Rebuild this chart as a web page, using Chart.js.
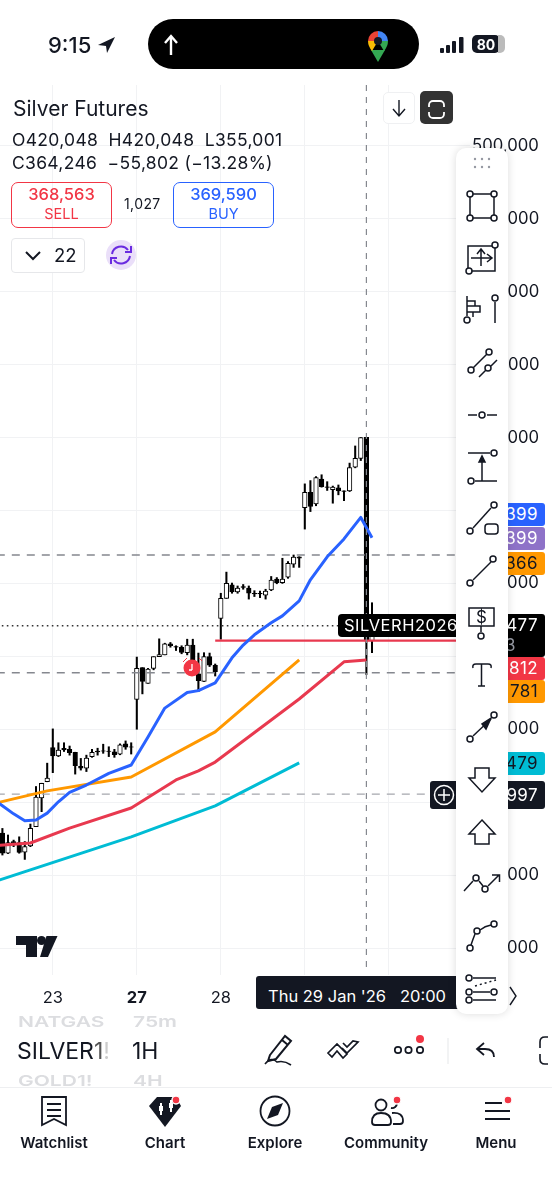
<!DOCTYPE html>
<html>
<head>
<meta charset="utf-8">
<title>Silver Futures</title>
<script src="https://cdn.jsdelivr.net/npm/chart.js@4"></script>
<style>
  html, body { margin: 0; padding: 0; background: #fff; }
  body { position: relative; width: 552px; height: 1200px; overflow: hidden; font-family: Inter, "Noto Sans", sans-serif; color: #131722; }
  #chart { position: absolute; left: -6px; top: 80px; z-index: 1; }
  #icons { position: absolute; left: 0; top: 0; z-index: 4; }
  .t { position: absolute; white-space: nowrap; line-height: 1; z-index: 5; }
  .wheel { font-size: 21px; font-weight: 600; color: #dcdde0; transform: scaleY(.72); transform-origin: left center; }
  .box { position: absolute; box-sizing: border-box; }
  .tag { position: absolute; right: 7px; width: 60px; height: 23px; border-radius: 3px; z-index: 2; font-size: 17px; line-height: 23px; text-align: right; padding-right: 7px; box-sizing: border-box; letter-spacing: 0.4px; color: #fff; }
  #panel { left: 456px; top: 148px; width: 52px; height: 866px; background: #fff; border-radius: 10px; box-shadow: 0 0 8px rgba(0,0,0,.14); z-index: 3; }
</style>
</head>
<body>

<canvas id="chart" width="558" height="935"></canvas>

<!-- header -->
<div class="t" style="left:48px;top:34px;font-size:22px;font-weight:500">9:15</div>
<div class="box" style="left:148px;top:19px;width:271px;height:50px;border-radius:25px;background:#000;z-index:2"></div>
<div class="t" style="left:13px;top:98px;font-size:21px">Silver Futures</div>
<div class="t" style="left:12px;top:131px;font-size:17.5px;letter-spacing:.3px">O420,048&nbsp; H420,048&nbsp; L355,001</div>
<div class="t" style="left:12px;top:154px;font-size:17.5px;letter-spacing:.3px">C364,246&nbsp; −55,802 (−13.28%)</div>

<div class="box" style="left:11px;top:182px;width:101px;height:46px;border:1.5px solid #f23645;border-radius:7px;z-index:2"></div>
<div class="t" style="left:11px;width:101px;text-align:center;top:186px;font-size:16.5px;font-weight:500;color:#f23645">368,563</div>
<div class="t" style="left:11px;width:101px;text-align:center;top:207px;font-size:14.5px;color:#f23645">SELL</div>
<div class="t" style="left:124px;top:197px;font-size:14px;letter-spacing:.4px">1,027</div>
<div class="box" style="left:173px;top:182px;width:101px;height:46px;border:1.5px solid #2962ff;border-radius:7px;z-index:2"></div>
<div class="t" style="left:173px;width:101px;text-align:center;top:186px;font-size:16.5px;font-weight:500;color:#2962ff">369,590</div>
<div class="t" style="left:173px;width:101px;text-align:center;top:207px;font-size:14.5px;color:#2962ff">BUY</div>
<div class="box" style="left:11px;top:238px;width:74px;height:35px;border:1.5px solid #e6e7ea;border-radius:4px;background:#fff;z-index:2"></div>
<div class="t" style="left:54px;top:246px;font-size:18.5px">22</div>
<div class="box" style="left:383px;top:92px;width:32px;height:32px;border:1.5px solid #eff0f2;border-radius:5px;background:#fff;z-index:2"></div>
<div class="box" style="left:420px;top:91px;width:33px;height:33px;border-radius:5px;background:#333;z-index:2"></div>

<!-- price tags -->
<div class="tag" style="top:503px;background:#2962ff">399</div>
<div class="tag" style="top:527px;background:#8e72c8">399</div>
<div class="tag" style="top:552px;background:#ff9800;color:#131722">366</div>
<div class="tag" style="top:614px;height:43px;background:#000">477<br><span style="position:relative;top:-3px;left:-22px;color:#9598a1">3</span></div>
<div class="tag" style="top:657px;background:#f23645">812</div>
<div class="tag" style="top:680px;background:#ff9800;color:#131722">781</div>
<div class="tag" style="top:752px;background:#00bcd4;color:#131722">479</div>
<div class="tag" style="top:781px;height:28px;line-height:28px;background:#131722">997</div>
<div class="box" style="left:430px;top:781px;width:30px;height:28px;border-radius:3px;background:#131722;z-index:2"></div>

<!-- chart labels -->
<div class="box" style="left:338px;top:614px;width:122px;height:23px;border-radius:4px;background:#000;z-index:2"></div>
<div class="t" style="left:344px;top:617px;font-size:16.5px;letter-spacing:.5px;color:#fff;z-index:2">SILVERH2026</div>
<div class="box" style="left:256px;top:976px;width:210px;height:33px;border-radius:3px;background:#131722;z-index:2"></div>
<div class="t" style="left:268px;top:988px;font-size:16.5px;color:#fff;z-index:2">Thu 29 Jan '26 &nbsp; 20:00</div>

<div class="box" id="panel"></div>

<!-- symbol and interval picker -->
<div class="t wheel" style="left:18px;top:1011px">NATGAS</div>
<div class="t wheel" style="left:133px;top:1011px">75m</div>
<div class="t" style="left:17px;top:1040px;font-size:23px;color:#131722">SILVER<span style="color:#555">1</span><span style="color:#ccc">!</span></div>
<div class="t" style="left:132px;top:1040px;font-size:23px;color:#131722">1H</div>
<div class="t wheel" style="left:18px;top:1070px">GOLD1!</div>
<div class="t wheel" style="left:133px;top:1070px">4H</div>
<div class="box" style="left:0;top:1087px;width:552px;height:1px;background:#eeeff1;z-index:2"></div>

<!-- tab bar -->
<div class="t" style="left:0;width:108px;text-align:center;top:1135px;font-size:15px;font-weight:600">Watchlist</div>
<div class="t" style="left:111px;width:108px;text-align:center;top:1135px;font-size:15px;font-weight:600">Chart</div>
<div class="t" style="left:221px;width:108px;text-align:center;top:1135px;font-size:15px;font-weight:600">Explore</div>
<div class="t" style="left:326px;width:120px;text-align:center;top:1135px;font-size:15px;font-weight:600">Community</div>
<div class="t" style="left:442px;width:108px;text-align:center;top:1135px;font-size:15px;font-weight:600">Menu</div>

<svg id="icons" width="552" height="1200" viewBox="0 0 552 1200" fill="none" stroke="#131722" stroke-width="1.5">
  <!-- status bar -->
  <path d="M115 37 L98 45 L106 46 L107 53 Z" fill="#131722" stroke="none"/>
  <path d="M171 55 V38 M165 43 L171 36 L177 43" stroke="#fff" stroke-width="2.4"/>
  <path d="M378 62 L371 50 L385 50 Z" fill="#34a853" stroke="none"/>
  <path d="M368 41 A10 10 0 0 1 378 31 L378 41 Z" fill="#ea4335" stroke="none"/>
  <path d="M378 31 A10 10 0 0 1 388 41 L378 41 Z" fill="#4285f4" stroke="none"/>
  <path d="M368 41 Q368 46 372 51 L378 41 Z" fill="#fbbc04" stroke="none"/>
  <path d="M388 41 Q388 46 384 51 L378 41 Z" fill="#34a853" stroke="none"/>
  <circle cx="378" cy="41" r="4" fill="#131722" stroke="none"/>
  <g fill="#131722" stroke="none">
    <rect x="440" y="48" width="4" height="5" rx="1"/><rect x="446" y="45" width="4" height="8" rx="1"/>
    <rect x="452" y="41" width="4" height="12" rx="1"/><rect x="459" y="37" width="4.5" height="16" rx="1"/>
    <rect x="472" y="35" width="28" height="18" rx="5"/>
  </g>
  <path d="M498 35 h2 a5 5 0 0 1 5 5 v8 a5 5 0 0 1 -5 5 h-2 Z" fill="#bbb" stroke="none"/>
  <text x="486" y="50" font-size="14" font-weight="700" text-anchor="middle" fill="#fff" stroke="none" font-family="Inter">80</text>

  <!-- header buttons -->
  <path d="M399 100 V115 M393 109 L399 116 L405 109" stroke-width="1.4"/>
  <path d="M429 107 v-2 a4 4 0 0 1 4 -4 h7 a4 4 0 0 1 4 4 v2 M429 112 v2 a4 4 0 0 0 4 4 h7 a4 4 0 0 0 4 -4 v-2" stroke="#fff" stroke-width="1.8"/>
  <path d="M26 252 L33 259 L40 252" stroke-width="2"/>
  <circle cx="121" cy="255" r="15" fill="#eadff9" stroke="none"/>
  <path d="M112 254 a9 9 0 0 1 16 -4 M130 256 a9 9 0 0 1 -16 4" stroke="#6a2be0" stroke-width="2"/>
  <path d="M131 246 v6 h-6 M111 264 v-6 h6" stroke="#6a2be0" stroke-width="2"/>

  <!-- position marker -->
  <circle cx="192" cy="668" r="8.5" fill="#f23645" stroke="none"/>
  <path d="M192 664 v6 M189 670 h3" stroke="#fff" stroke-width="1.3"/>
  <path d="M183 662 l4 -4 M199 658 l3 3" stroke="#f23645" stroke-width="1"/>

  <!-- tradingview mark -->
  <path d="M16 936 H37 V957 H26 V945 H16 Z" fill="#131722" stroke="none"/>
  <circle cx="41.500" cy="940.500" r="4.500" fill="#131722" stroke="none"/>
  <path d="M46.500 936 H57.500 L48 957 H40 Z" fill="#131722" stroke="none"/>

  <!-- crosshair add button and axis settings -->
  <circle cx="444" cy="795" r="9.5" stroke="#fff" stroke-width="1.5"/>
  <path d="M444 789 v12 M438 795 h12" stroke="#fff" stroke-width="1.5"/>
  <path d="M510 987 L516 996 L510 1005" stroke-width="1.4"/>

  <!-- drawing tools -->
  <g fill="#9598a1" stroke="none">
    <circle cx="475" cy="159" r="1.2"/><circle cx="482" cy="159" r="1.2"/><circle cx="489" cy="159" r="1.2"/>
    <circle cx="475" cy="167" r="1.2"/><circle cx="482" cy="167" r="1.2"/><circle cx="489" cy="167" r="1.2"/>
  </g>
  <g>
    <path d="M470 194 H494 V218 H470 Z"/>
    <path d="M468 246 H495 V271 H468 Z M481 266 V251 M477 254 L481 249 L485 254 M471 258 H491 M487 254 L492 258 L487 262"/>
    <path d="M467 296 V316 M467 301 H475 V306 H467 M467 306 H480 V312 H467 M467 312 H473 V317 M495 302 V323"/>
    <path d="M473 368 L487 354 M479 377 L486 370 M491 366 L497 360"/>
    <path d="M468 415 H477 M487 415 H497"/>
    <path d="M468 453 H490 M475 481 H497 M482 481 V460"/><path d="M479 462 L482 456 L485 462 Z" fill="#131722"/>
    <path d="M473 528 L491 508"/><rect x="485" y="524" width="13" height="10" rx="3"/>
    <path d="M473 580 L491 562"/>
    <path d="M469 608 H494 V626 H469 Z M481 626 V632"/>
    <path d="M473 668 Q472 664 476 664 H488 Q492 664 491 668 M481.5 664 V686 M478 686 H485"/>
    <path d="M473 736 L491 719"/><path d="M491 718 L482 724 L486 729 Z" fill="#131722"/>
    <path d="M475 768 H489 V778 H495 L482 792 L469 778 H475 Z"/>
    <path d="M482 820 L495 834 H489 V844 H475 V834 H469 Z"/>
    <path d="M464 891 L473 881 M479 881 L483 886 M488 886 L499 875 M492 875 H499.5 V882"/>
    <path d="M471 945 Q473 939 475 934 M480 930 Q485 926 491 925"/>
    <path d="M473 978 H496 M473 992 H490 M473 1000 H496"/>
    <path d="M475 986 L496 980" stroke-dasharray="2 3"/>
    <g fill="#fff">
      <circle cx="470" cy="194" r="3"/><circle cx="494" cy="194" r="3"/><circle cx="470" cy="218" r="3"/><circle cx="494" cy="218" r="3"/>
      <circle cx="495" cy="245" r="3"/><circle cx="469" cy="271" r="3"/>
      <circle cx="467" cy="320" r="3"/><circle cx="495" cy="298" r="3"/>
      <circle cx="471" cy="370" r="3"/><circle cx="489" cy="352" r="3"/><circle cx="488" cy="368" r="3"/>
      <circle cx="482" cy="415" r="3"/>
      <circle cx="494" cy="453" r="3"/><circle cx="471" cy="481" r="3"/>
      <circle cx="470" cy="531" r="3"/><circle cx="494" cy="505" r="3"/>
      <circle cx="470" cy="583" r="3"/><circle cx="493" cy="559" r="3"/>
      <circle cx="481" cy="636" r="3"/>
      <circle cx="470" cy="739" r="3"/><circle cx="494" cy="715" r="3"/>
      <circle cx="476" cy="878" r="3"/><circle cx="485" cy="889" r="3"/>
      <circle cx="470" cy="948" r="3"/><circle cx="477" cy="931" r="3"/><circle cx="494" cy="924" r="3"/>
      <circle cx="469" cy="978" r="3"/><circle cx="469" cy="992" r="3"/><circle cx="494" cy="992" r="3"/><circle cx="469" cy="1000" r="3"/>
    </g>
  </g>
  <text x="481.500" y="623" font-size="17" text-anchor="middle" fill="#131722" stroke="none" font-family="Inter">$</text>

  <!-- bottom toolbar -->
  <path d="M270 1055 L285 1036 L291 1041 L276 1059 L268 1061 Z M282 1040 L288 1045" stroke-width="2"/>
  <path d="M265 1064 Q271 1056 277 1062 Q284 1060 291 1065" stroke-width="1.6"/>
  <path d="M328 1053 L337 1044 L347 1054 L343 1058 L337 1051 L332 1057 Z M342 1048 L347 1053 L358 1042 L353 1041 L347 1047 L343 1043" stroke-width="1.7"/>
  <circle cx="398" cy="1050" r="3.2" stroke-width="1.7"/><circle cx="408.500" cy="1050" r="3.2" stroke-width="1.7"/><circle cx="420" cy="1050" r="3.2" stroke-width="1.7"/>
  <circle cx="420" cy="1039" r="4" fill="#f23645" stroke="none"/>
  <path d="M448 1038 V1064" stroke="#eeeff1"/>
  <path d="M494 1057 Q494 1049 485 1049 H478 M484 1043 L477 1049 L484 1055" stroke-width="1.8"/>
  <path d="M548 1037 h-3 q-5 0 -5 5 v6 M540 1054 v5 q0 5 5 5 h3" stroke-width="1.6"/>

  <!-- tab bar icons -->
  <path d="M42 1097 H66 V1125 L54 1119 L42 1125 Z M47 1104 H61 M47 1110 H61 M47 1116 H61" stroke-width="1.8"/>
  <path d="M149 1106 L157 1097 H176 L181 1106 L165 1127 Z" fill="#131722" stroke="none"/>
  <path d="M161 1103 v12 M171 1100 v12" stroke="#fff" stroke-width="2"/>
  <path d="M159 1106 h4 v5 h-4 Z M169 1103 h4 v5 h-4 Z" fill="#fff" stroke="none"/>
  <circle cx="176" cy="1100" r="4" fill="#f23645" stroke="#fff"/>
  <circle cx="275" cy="1111" r="14.500" stroke-width="1.8"/>
  <path d="M283 1103 L278 1115 L267 1119 L272 1107 Z" fill="#131722" stroke="none"/>
  <circle cx="381" cy="1105" r="5.500" stroke-width="1.8"/>
  <path d="M372 1122 q0 -9 9 -9 q10 0 10 9 q0 3 -3 3 h-13 q-3 0 -3 -3 Z M392 1113 q11 -1 11 8 q0 3 -3 3 h-7 M391 1108 a5 5 0 0 0 6 -5" stroke-width="1.8"/>
  <circle cx="397" cy="1100" r="4" fill="#f23645" stroke="#fff"/>
  <path d="M485 1103 H502 M485 1111 H510 M485 1119 H510" stroke-width="1.8"/>
  <circle cx="508" cy="1100" r="4" fill="#f23645" stroke="#fff"/>
</svg>

<script>
// day labels and the bar they start on, 15 hourly bars per session
const dayBars = [10, 25, 40, 55, 70, 85];
const dayLabels = ["23", "27", "28", "29", "30", ""];
const categories = Array.from({ length: 85 }, (_, i) => i);

// hourly candles, first slot is empty so the lines can run off the left edge
const open = [null,
  311500, 306000, 309200, 308900, 306300, 308000, 313300, 321200, 325600, 335000,
  332700, 334800, 334500, 333700, 329800, 329300, 332500, 334000, 334100, 334000,
  333800, 333200, 336000, 335200, 348200, 356900, 352600, 356700, 359900, 360400,
  363400, 362700, 362500, 361000, 363100, 355200, 353100, 359900, 357500, 370400,
  375900, 379600, 377700, 379100, 378700, 377300, 377300, 376800, 378200, 381200,
  380200, 381700, 385300, 387300, 400800, 405000, 401800, 408600, 406500, 405700,
  406200, 405400, 405400, 411900, 414300, 420048, 364246];
const high = [null,
  312800, 311000, 309600, 310500, 309200, 314000, 324300, 325200, 330700, 340100,
  336300, 336300, 335400, 333700, 332000, 332900, 334500, 334800, 335900, 335200,
  334500, 336000, 336800, 336300, 359800, 356900, 356700, 359900, 364800, 363600,
  363800, 362900, 362900, 364700, 364700, 360900, 361000, 360900, 357900, 377300,
  383100, 380100, 379300, 379700, 379300, 378000, 377900, 378400, 381900, 381600,
  386900, 386000, 387800, 387300, 407300, 408200, 409300, 409800, 407900, 406700,
  407000, 405400, 413000, 417700, 420000, 420048, 374700];
const low = [null,
  305500, 305900, 307800, 306000, 304300, 307800, 313300, 317400, 325600, 328100,
  332500, 333900, 332900, 327700, 328800, 328400, 332300, 332900, 333400, 332500,
  332300, 333000, 334500, 333200, 340000, 349700, 352600, 356300, 359900, 360400,
  362500, 361600, 360700, 360400, 356700, 350300, 353100, 357200, 354600, 364700,
  375900, 377300, 377300, 378400, 375700, 376400, 376100, 375700, 378000, 379900,
  380000, 381400, 384400, 384400, 394900, 399700, 401300, 406400, 405500, 402000,
  404300, 402700, 405200, 411700, 413700, 355001, 361000];
const close = [null,
  306000, 308900, 308700, 306200, 307800, 312800, 321400, 325200, 326600, 332700,
  334300, 334300, 333600, 330000, 329300, 332100, 333700, 333800, 334000, 333900,
  333000, 335700, 335100, 335100, 356700, 353100, 356500, 359900, 360500, 363400,
  362900, 362500, 361100, 363100, 358800, 353300, 359900, 357600, 355800, 375900,
  380000, 377700, 378700, 378900, 377300, 377100, 377100, 377900, 380900, 380200,
  381200, 385500, 387200, 386900, 405000, 401100, 409000, 406500, 406300, 406400,
  405400, 405200, 411800, 414300, 420000, 364246, 368563];

const blueBars = [0, 1, 3, 5, 7, 9, 11, 13, 16, 20, 24, 27, 30, 34, 36, 39, 42, 44, 46, 49, 51, 54, 56, 59, 62, 65, 67];
const blueValues = [320100, 319000, 316800, 314900, 315100, 317000, 320100, 322700, 324700, 327900, 330200, 337900, 345800, 350100, 350600, 352700, 359600, 363100, 365900, 369200, 371100, 375200, 381000, 387300, 392200, 398100, 392500];
const orangeBars = [0, 9, 24, 39, 54];
const orangeValues = [319800, 323100, 326900, 339300, 359000];
const redBars = [0, 6, 13, 24, 32, 36, 39, 54, 62, 66];
const redValues = [308100, 308800, 312900, 318400, 326100, 328600, 331000, 348300, 358500, 359000];
const tealBars = [0, 24, 39, 54];
const tealValues = [298400, 310500, 319000, 330800];

// horizontal levels: price, first bar, last bar
const sellLevel = [364300, 39, 84];
const lastPriceLevel = [368400, 0, 61];
const upperDashLevel = [387800, 0, 84];
const lowerDashLevel = [355500, 0, 84];
const crosshairLevel = [322200, 0, 77];
const crosshairBar = 66;

const priceMin = 272600;
const priceMax = 516700;
const priceTicks = [500000, 480000, 460000, 440000, 420000, 400000, 380000, 360000, 340000, 320000, 300000, 280000];

function toPoints(bars, values) {
  return bars.map((bar, i) => ({ x: bar, y: values[i] }));
}

function levelPoints([price, from, to]) {
  return [{ x: from, y: price }, { x: to, y: price }];
}

function maLine(bars, values, color) {
  return { type: "line", data: toPoints(bars, values), borderColor: color, borderWidth: 3, pointRadius: 0, tension: 0, order: 1, borderJoinStyle: "round" };
}

function levelLine(level, color, width, dash) {
  return { type: "line", data: levelPoints(level), borderColor: color, borderWidth: width, borderDash: dash, pointRadius: 0, order: 2 };
}

// vertical crosshair, taken from the scales
const crosshairPlugin = {
  id: "crosshair",
  afterDatasetsDraw(chart) {
    const { ctx, chartArea, scales } = chart;
    const x = scales.x.getPixelForValue(crosshairBar);
    ctx.save();
    ctx.strokeStyle = "#85888f";
    ctx.lineWidth = 1.2;
    ctx.setLineDash([6, 6]);
    ctx.beginPath();
    ctx.moveTo(x, chartArea.top);
    ctx.lineTo(x, chartArea.bottom - 7);
    ctx.stroke();
    ctx.restore();
  }
};

window.addEventListener("DOMContentLoaded", () => {
  new Chart(document.getElementById("chart"), {
    data: {
      labels: categories,
      datasets: [
        maLine(blueBars, blueValues, "#2962ff"),
        maLine(orangeBars, orangeValues, "#ff9800"),
        maLine(redBars, redValues, "#e8394f"),
        maLine(tealBars, tealValues, "#00bcd4"),
        levelLine(sellLevel, "#e8394f", 2.4, []),
        levelLine(lastPriceLevel, "#333", 1.6, [1.6, 3.4]),
        levelLine(upperDashLevel, "#85888f", 1.6, [8, 7]),
        levelLine(lowerDashLevel, "#85888f", 1.6, [8, 7]),
        levelLine(crosshairLevel, "#a5a7ad", 1.3, [8, 7]),
        {
          // candle bodies
          type: "bar",
          data: open.map((o, i) => (o === null ? null : [o, close[i]])),
          grouped: false,
          barThickness: 4.6,
          backgroundColor: open.map((o, i) => (close[i] >= o ? "#fff" : "#000")),
          borderColor: "#000",
          borderWidth: 1,
          borderSkipped: false,
          order: 3
        },
        {
          // candle wicks
          type: "bar",
          data: low.map((l, i) => (l === null ? null : [l, high[i]])),
          grouped: false,
          barThickness: 1.4,
          backgroundColor: "#000",
          order: 4
        }
      ]
    },
    options: {
      responsive: false,
      animation: false,
      events: [],
      layout: { padding: { top: 5 } },
      plugins: { legend: { display: false }, tooltip: { enabled: false } },
      scales: {
        x: {
          type: "category",
          offset: true,
          afterFit: (scale) => {
            scale.height = 40;
            scale.paddingLeft = 0;
            scale.paddingRight = 0;
          },
          border: { display: false },
          grid: {
            offset: false,
            drawTicks: false,
            color: (ctx) => (dayBars.includes(ctx.index) ? "#f1f2f4" : "rgba(0,0,0,0)"),
            lineWidth: 1
          },
          ticks: {
            autoSkip: false,
            maxRotation: 0,
            padding: 13,
            color: "#131722",
            font: (ctx) => ({ family: "Inter", size: 16.5, weight: ctx.index === 25 ? "700" : "400" }),
            callback: (value, index) => {
              const at = dayBars.indexOf(index);
              return at < 0 ? "" : dayLabels[at];
            }
          }
        },
        y: {
          position: "right",
          min: priceMin,
          max: priceMax,
          afterBuildTicks: (scale) => {
            scale.ticks = priceTicks.map((value) => ({ value }));
          },
          afterFit: (scale) => {
            scale.width = 82;
            scale.paddingTop = 0;
            scale.paddingBottom = 0;
          },
          border: { display: false },
          grid: { color: "#f1f2f4", drawTicks: false },
          ticks: {
            autoSkip: false,
            crossAlign: "near",
            padding: 2,
            color: "#131722",
            font: { family: "Inter", size: 16.7 },
            callback: (value) => value.toLocaleString("en-US")
          }
        }
      }
    },
    plugins: [crosshairPlugin]
  });
});
</script>
</body>
</html>
